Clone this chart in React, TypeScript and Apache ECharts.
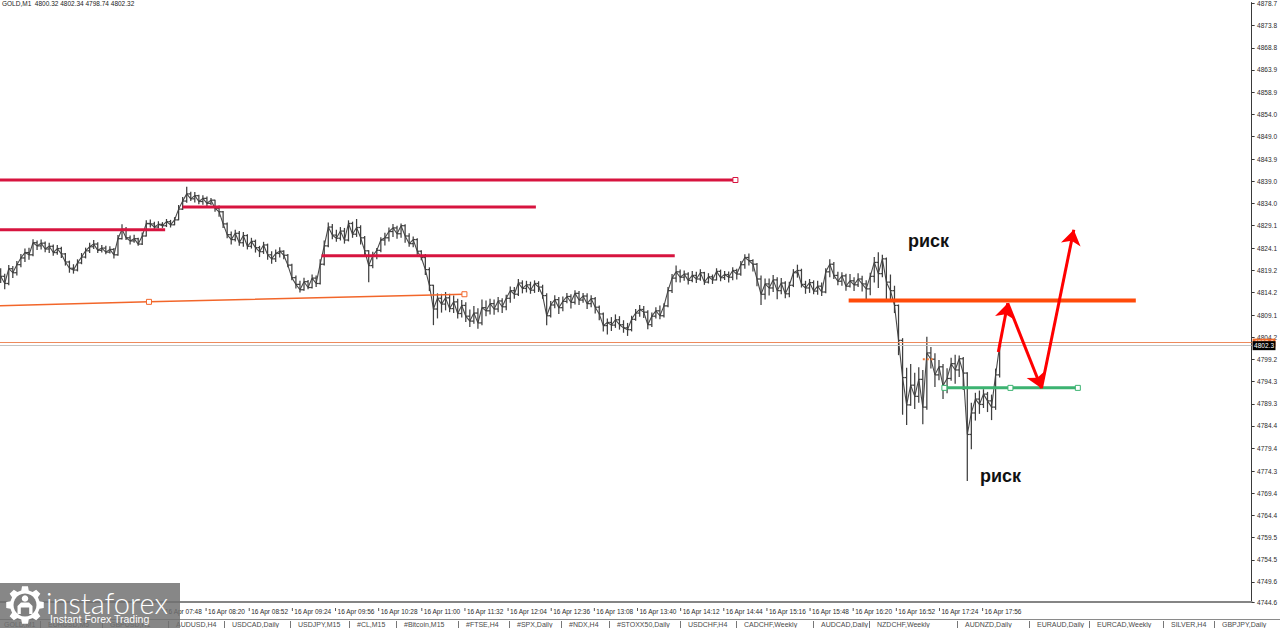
import React, { useEffect, useRef } from "react";
import * as echarts from "echarts";

// ---------------- data ----------------
const HEADER = "GOLD,M1  4800.32 4802.34 4798.74 4802.32";
const BAR_START = "05:48";
const BAR_STEP = 3; // minutes represented by each drawn bar
const FIRST_OPEN = 4818.9;

const CLOSE = [
  4817.8, 4816.2, 4819.5, 4818.6, 4820.4, 4821.9, 4823.1, 4822.6, 4825.3, 4824.6,
  4825.2, 4823.9, 4824.5, 4823.1, 4824.0, 4822.8, 4821.0, 4819.6, 4819.2, 4820.8,
  4822.1, 4823.5, 4824.4, 4825.0, 4823.6, 4824.1, 4823.2, 4823.8, 4822.6, 4826.2,
  4828.3, 4826.4, 4825.7, 4826.2, 4825.0, 4826.8, 4829.6, 4829.5, 4828.8, 4829.4,
  4829.1, 4830.0, 4829.3, 4830.4, 4832.8, 4834.6, 4836.2, 4835.1, 4835.8, 4834.5,
  4835.2, 4834.1, 4834.8, 4833.0, 4832.2, 4829.5, 4827.1, 4826.0, 4827.4, 4825.3,
  4826.9, 4824.5, 4825.6, 4824.2, 4823.3, 4824.8, 4822.6, 4821.7, 4822.9, 4823.4,
  4822.5, 4820.3, 4817.5, 4816.0, 4814.8, 4816.6, 4815.3, 4817.4, 4816.2, 4820.5,
  4824.6, 4828.8, 4827.0, 4826.3, 4827.9, 4825.9, 4829.6, 4827.2, 4828.7, 4826.4,
  4823.5, 4820.2, 4822.4, 4823.6, 4825.9, 4826.4, 4827.8, 4828.6, 4827.3, 4829.1,
  4826.8, 4825.1, 4826.0, 4823.4, 4822.0, 4819.3, 4815.8, 4810.5, 4812.9, 4811.6,
  4813.0, 4810.6, 4812.1, 4809.5, 4811.3, 4808.9, 4807.8, 4809.6, 4807.4, 4810.8,
  4810.1, 4811.7, 4810.5, 4812.3, 4811.0, 4812.9, 4814.6, 4813.8, 4816.3, 4815.1,
  4815.9, 4814.7, 4816.2, 4815.4, 4813.5, 4809.0, 4811.4, 4812.6, 4810.8, 4812.2,
  4813.3, 4812.0, 4814.0, 4812.5, 4813.4, 4811.7, 4812.8, 4810.9, 4809.4, 4806.8,
  4807.5, 4806.9, 4808.1, 4807.0, 4806.3, 4805.9, 4808.2, 4809.6, 4810.4, 4809.8,
  4807.0, 4808.9, 4810.1, 4809.0, 4811.2, 4814.6, 4817.4, 4818.8, 4817.6, 4818.3,
  4816.9, 4818.0, 4817.2, 4818.6, 4816.5, 4817.7, 4817.0, 4818.9, 4817.5, 4818.2,
  4817.6, 4819.1, 4818.3, 4820.4, 4822.0, 4821.3, 4820.5, 4817.2, 4813.8, 4816.1,
  4815.2, 4817.0, 4814.6, 4816.3, 4813.9, 4815.8, 4818.6, 4819.1, 4816.0, 4815.2,
  4816.4, 4814.5, 4815.6, 4814.3, 4818.8, 4820.5, 4818.0, 4816.7, 4817.9, 4815.6,
  4816.8, 4815.9, 4817.2, 4816.1, 4815.0, 4817.8, 4820.9, 4818.4, 4821.7, 4816.5,
  4814.6, 4811.3, 4803.5, 4795.2, 4789.1, 4793.5, 4791.0, 4794.8, 4788.6, 4800.7,
  4799.3, 4795.8, 4797.6, 4793.4, 4795.0, 4798.3, 4796.9, 4799.4, 4796.2, 4782.5,
  4787.3, 4790.4, 4789.2, 4791.5, 4790.0, 4788.6, 4795.8, 4802.32,
];

const HIGH = [
  4819.6, 4818.4, 4820.3, 4820.1, 4821.2, 4822.8, 4824.0, 4824.2, 4826.1, 4825.8,
  4826.0, 4825.6, 4825.3, 4824.9, 4824.8, 4824.4, 4823.0, 4821.3, 4820.5, 4821.6,
  4823.0, 4824.2, 4825.3, 4825.9, 4825.4, 4824.8, 4824.6, 4824.5, 4824.1, 4827.0,
  4829.4, 4828.8, 4826.9, 4827.1, 4826.4, 4827.6, 4830.3, 4830.5, 4830.0, 4830.1,
  4829.9, 4830.6, 4830.4, 4831.0, 4833.7, 4835.5, 4837.8, 4836.7, 4836.6, 4836.0,
  4835.9, 4835.6, 4835.3, 4834.9, 4833.6, 4832.4, 4829.8, 4827.8, 4828.2, 4827.9,
  4827.7, 4827.2, 4826.4, 4826.0, 4824.6, 4825.5, 4825.1, 4823.4, 4823.8, 4824.3,
  4823.6, 4822.8, 4820.6, 4818.0, 4816.8, 4817.5, 4817.0, 4818.2, 4818.0, 4821.6,
  4825.8, 4829.8, 4829.5, 4828.2, 4828.8, 4828.6, 4830.3, 4830.0, 4830.6, 4829.2,
  4826.8, 4823.6, 4823.3, 4824.1, 4826.5, 4827.5, 4828.7, 4829.5, 4829.1, 4829.6,
  4829.4, 4827.4, 4826.7, 4826.3, 4823.6, 4822.8, 4819.8, 4815.9, 4814.0, 4813.9,
  4814.3, 4813.9, 4813.5, 4812.8, 4812.5, 4812.0, 4810.4, 4811.2, 4810.7, 4812.6,
  4812.4, 4812.8, 4812.6, 4813.2, 4812.9, 4813.7, 4815.5, 4815.4, 4817.2, 4816.9,
  4816.8, 4816.6, 4816.9, 4816.7, 4815.9, 4814.0, 4812.3, 4813.6, 4813.2, 4813.3,
  4814.1, 4813.8, 4814.7, 4814.5, 4814.1, 4814.0, 4813.6, 4813.2, 4811.3, 4809.7,
  4808.4, 4808.7, 4809.3, 4808.9, 4808.0, 4807.4, 4809.0, 4810.5, 4811.4, 4811.2,
  4810.2, 4809.7, 4810.9, 4811.3, 4811.8, 4815.4, 4818.3, 4820.2, 4819.3, 4819.1,
  4818.7, 4819.0, 4818.8, 4819.4, 4818.8, 4818.5, 4818.2, 4819.6, 4819.3, 4819.0,
  4818.9, 4819.8, 4819.5, 4821.2, 4822.7, 4822.9, 4821.6, 4820.8, 4818.0, 4817.3,
  4817.3, 4818.1, 4817.6, 4817.4, 4816.7, 4816.6, 4819.4, 4820.4, 4819.5, 4816.8,
  4817.2, 4816.9, 4816.8, 4816.4, 4819.6, 4821.6, 4821.0, 4818.8, 4818.7, 4818.4,
  4818.3, 4817.6, 4818.5, 4817.9, 4816.9, 4818.6, 4822.1, 4823.2, 4822.6, 4822.0,
  4818.2, 4815.7, 4811.5, 4804.0, 4797.4, 4798.2, 4796.3, 4797.5, 4796.9, 4804.3,
  4802.0, 4800.6, 4799.1, 4798.2, 4797.3, 4799.6, 4800.3, 4800.1, 4799.8, 4796.4,
  4789.6, 4791.8, 4792.3, 4792.6, 4792.0, 4791.4, 4797.2, 4802.34,
];

const LOW = [
  4816.3, 4814.9, 4815.8, 4817.4, 4818.0, 4819.8, 4821.0, 4821.5, 4822.3, 4823.7,
  4823.8, 4823.2, 4823.0, 4822.4, 4822.6, 4821.9, 4820.2, 4818.6, 4818.4, 4818.9,
  4820.5, 4821.8, 4823.0, 4823.9, 4823.0, 4823.1, 4822.7, 4822.9, 4821.8, 4822.4,
  4826.0, 4825.9, 4824.9, 4825.3, 4824.6, 4824.8, 4826.7, 4828.7, 4828.4, 4828.5,
  4828.6, 4828.8, 4828.7, 4829.2, 4830.3, 4832.6, 4834.2, 4834.6, 4834.3, 4833.9,
  4833.8, 4833.5, 4833.7, 4832.2, 4831.1, 4828.6, 4826.3, 4824.9, 4825.6, 4824.6,
  4824.4, 4823.8, 4824.0, 4823.1, 4822.1, 4822.8, 4821.5, 4820.6, 4821.0, 4822.0,
  4821.6, 4819.8, 4816.9, 4815.1, 4814.2, 4814.6, 4814.9, 4815.1, 4815.4, 4816.0,
  4820.2, 4824.3, 4826.1, 4825.5, 4825.8, 4825.1, 4825.6, 4826.4, 4826.6, 4824.9,
  4822.1, 4816.5, 4819.6, 4821.6, 4823.2, 4824.7, 4825.6, 4826.6, 4826.2, 4826.4,
  4825.3, 4824.4, 4824.3, 4822.6, 4821.4, 4818.1, 4814.5, 4806.9, 4808.4, 4809.7,
  4810.2, 4809.8, 4809.6, 4808.4, 4808.6, 4807.6, 4806.5, 4807.2, 4806.1, 4806.9,
  4808.9, 4809.3, 4809.2, 4809.8, 4809.6, 4810.2, 4811.9, 4812.8, 4813.4, 4814.0,
  4814.2, 4813.9, 4814.1, 4814.3, 4812.8, 4806.9, 4808.6, 4810.7, 4809.4, 4810.0,
  4811.8, 4810.6, 4811.5, 4811.4, 4811.9, 4810.5, 4810.9, 4809.5, 4808.0, 4805.5,
  4804.8, 4805.6, 4806.3, 4805.9, 4805.2, 4804.5, 4805.5, 4807.9, 4808.8, 4808.5,
  4806.0, 4806.5, 4808.4, 4808.2, 4808.6, 4810.9, 4814.1, 4816.5, 4816.4, 4816.8,
  4816.0, 4816.5, 4816.3, 4816.8, 4815.9, 4816.2, 4816.1, 4816.9, 4816.7, 4817.0,
  4816.4, 4816.9, 4817.1, 4817.9, 4819.5, 4820.2, 4818.9, 4815.6, 4811.4, 4812.6,
  4813.5, 4814.3, 4812.7, 4813.8, 4812.9, 4813.1, 4815.4, 4817.5, 4815.3, 4813.9,
  4814.1, 4813.8, 4813.7, 4813.4, 4814.0, 4817.6, 4817.2, 4815.8, 4815.7, 4814.6,
  4815.3, 4814.5, 4815.4, 4814.4, 4812.2, 4813.6, 4816.4, 4815.2, 4817.6, 4812.1,
  4812.6, 4809.6, 4800.2, 4786.9, 4784.6, 4788.9, 4788.2, 4789.6, 4784.8, 4788.0,
  4797.2, 4793.1, 4794.6, 4790.4, 4791.7, 4794.5, 4793.8, 4795.3, 4792.4, 4772.1,
  4779.2, 4785.6, 4787.1, 4788.4, 4787.5, 4785.7, 4788.0, 4795.2,
];

const BID = 4802.32;
const BID_LABEL = "4802.3";
const ASK = 4803.0;
const ASK_LABEL = "4803.0";

const Y_TICKS = [
  4878.7, 4873.8, 4868.8, 4863.9, 4858.9, 4854.0, 4849.0, 4843.9, 4839.0, 4834.0,
  4829.1, 4824.1, 4819.2, 4814.2, 4809.1, 4804.2, 4799.2, 4794.3, 4789.3, 4784.4,
  4779.4, 4774.3, 4769.4, 4764.4, 4759.5, 4754.5, 4749.6, 4744.6,
];
const X_TICKS = [
  "07:48", "08:20", "08:52", "09:24", "09:56", "10:28", "11:00",
  "11:32", "12:04", "12:36", "13:08", "13:40", "14:12", "14:44", "15:16", "15:48", "16:20",
  "16:52", "17:24", "17:56",
];
const DATE_PREFIX = "16 Apr ";

// drawn objects (time, price)
const RES_1 = [["05:40", 4839.3], ["14:53", 4839.3]];
const RES_2 = [["08:03", 4833.3], ["12:25", 4833.3]];
const RES_3 = [["05:40", 4828.2], ["07:50", 4828.2]];
const RES_4 = [["09:46", 4822.4], ["14:08", 4822.4]];
const TREND = [["05:40", 4811.2], ["07:38", 4812.1], ["11:32", 4813.8]];
const LEVEL_ORANGE = [["16:17", 4812.4], ["19:50", 4812.4]];
const LEVEL_GREEN = [["17:28", 4792.9], ["18:17", 4792.9], ["19:07", 4792.9]];
const ORANGE_TAG = [["17:12", 4799.3], ["17:20", 4799.3]];
const ARROWS = [
  [["18:08", 4800.9], ["18:15", 4811.8]],
  [["18:15", 4811.8], ["18:40", 4792.8]],
  [["18:40", 4792.8], ["19:04", 4828.2]],
];
const RISK_TEXT = "риск";

const TABS = [
  "GOLD,M1", "EURUSD,M5", "GBPUSD,H1", "AUDUSD,H4", "USDCAD,Daily", "USDJPY,M15", "#CL,M15",
  "#Bitcoin,M15", "#FTSE,H4", "#SPX,Daily", "#NDX,H4", "#STOXX50,Daily", "USDCHF,H4",
  "CADCHF,Weekly", "AUDCAD,Daily", "NZDCHF,Weekly", "AUDNZD,Daily", "EURAUD,Daily",
  "EURCAD,Weekly", "SILVER,H4", "GBPJPY,Daily",
];

// ---------------- layout ----------------
const TAB_X = [4, 48, 110, 176, 232, 298, 357, 404, 466, 517, 569, 617, 688, 744, 821, 877, 965, 1037, 1097, 1171, 1222];
const X_MIN = 347.5;
const X_MAX = 1275.9;
const Y_MIN = 4745.1;
const Y_MAX = 4878.9;
const FONT = "'Liberation Sans', Arial, sans-serif";
const CRIMSON = "#d7143f";
const BAR_COLOR = "#3f3f3f";

const toMin = (s: string) => {
  const [h, m] = s.split(":").map(Number);
  return h * 60 + m;
};
const pad = (n: number) => (n < 10 ? "0" + n : "" + n);
const fmtMin = (v: number) => {
  const r = Math.round(v);
  return pad(Math.floor(r / 60)) + ":" + pad(r % 60);
};

function gearPoints(cx: number, cy: number, rOut: number, rIn: number, teeth: number) {
  const pts: number[][] = [];
  const s = (Math.PI * 2) / teeth;
  for (let k = 0; k < teeth; k++) {
    const a = k * s - Math.PI / 2;
    const add = (r: number, ang: number) => pts.push([cx + r * Math.cos(ang), cy + r * Math.sin(ang)]);
    add(rIn, a - s * 0.32);
    add(rOut, a - s * 0.2);
    add(rOut, a + s * 0.2);
    add(rIn, a + s * 0.32);
  }
  return pts;
}

function lineSeries(name: string, pts: (string | number)[][], color: string, width: number, marks: boolean[], z = 5, type = "solid") {
  return {
    name,
    type: "line",
    z,
    clip: true,
    silent: true,
    data: pts.map((p, i) => ({
      value: [toMin(p[0] as string), p[1] as number],
      symbolSize: marks[i] ? 5 : 0,
    })),
    symbol: "rect",
    showSymbol: true,
    itemStyle: { color: "#ffffff", borderColor: color, borderWidth: 1 },
    lineStyle: { color, width, type },
  };
}

export default function App() {
  const ref = useRef<HTMLDivElement>(null);

  useEffect(() => {
    if (!ref.current) return;
    const chart = echarts.init(ref.current, undefined, { renderer: "svg" });

    const t0 = toMin(BAR_START);
    const bars = CLOSE.map((c, i) => [t0 + i * BAR_STEP, i === 0 ? FIRST_OPEN : CLOSE[i - 1], c, LOW[i], HIGH[i]]);
    const closeLine = CLOSE.map((c, i) => [t0 + i * BAR_STEP, c]);

    const yPos = Y_TICKS.map((v) => Math.min(Y_MAX, Math.max(Y_MIN, v)));
    const yLabel = (v: number) => {
      let best = 0;
      yPos.forEach((p, i) => {
        if (Math.abs(p - v) < Math.abs(yPos[best] - v)) best = i;
      });
      return Y_TICKS[best].toFixed(1);
    };
    const xVals = X_TICKS.map(toMin);

    const gear = gearPoints(25, 605, 19, 15, 8);

    const tabEls: any[] = [];
    tabEls.push({
      type: "line",
      shape: { x1: 0, y1: 619.5, x2: 1280, y2: 619.5 },
      style: { stroke: "#8a8a8a", lineWidth: 1 },
      z: 50,
    });
    TABS.forEach((name, i) => {
      tabEls.push({
        type: "text",
        x: TAB_X[i],
        y: 620.5,
        z: 50,
        style: { text: name, fontSize: 7, fontFamily: FONT, fill: "#4a4a4a", verticalAlign: "top" },
      });
      if (i > 0) {
        tabEls.push({
          type: "line",
          shape: { x1: TAB_X[i] - 7.5, y1: 621, x2: TAB_X[i] - 7.5, y2: 628 },
          style: { stroke: "#777", lineWidth: 1 },
          z: 50,
        });
      }
    });

    const option: any = {
      animation: false,
      backgroundColor: "#ffffff",
      grid: { left: 0, right: 23, top: 0, bottom: 26, containLabel: false },
      xAxis: {
        type: "value",
        min: X_MIN,
        max: X_MAX,
        axisLine: { show: true, lineStyle: { color: "#858585", width: 2 } },
        axisTick: { show: false },
        splitLine: { show: false },
        axisLabel: {
          customValues: xVals,
          align: "left",
          margin: 6,
          formatter: (v: number) => `{tk|}{tx|${DATE_PREFIX}${fmtMin(v)}}`,
          rich: {
            tk: { width: 1, height: 3, backgroundColor: "#555", verticalAlign: "top" },
            tx: { fontSize: 6.5, fontFamily: FONT, color: "#2a2a2a", padding: [0, 0, 0, 1.5] },
          },
        },
      },
      yAxis: {
        type: "value",
        position: "right",
        min: Y_MIN,
        max: Y_MAX,
        axisLine: { show: true, lineStyle: { color: "#3a3a3a", width: 1 } },
        axisTick: { show: true, length: 3, customValues: yPos, lineStyle: { color: "#3a3a3a" } },
        splitLine: { show: false },
        axisLabel: {
          customValues: yPos,
          margin: 5.5,
          fontSize: 6.5,
          fontFamily: FONT,
          color: "#2a2a2a",
          formatter: (v: number) => yLabel(v),
        },
      },
      series: [
        {
          name: "close",
          type: "line",
          data: closeLine,
          symbol: "none",
          z: 2,
          silent: true,
          lineStyle: { color: "#4a4a4a", width: 1.1 },
          markLine: {
            silent: true,
            symbol: ["none", "none"],
            data: [
              {
                yAxis: ASK,
                lineStyle: { color: "#ee8a5c", width: 1, type: "solid" },
                label: {
                  show: true, position: "end", distance: 1, formatter: ASK_LABEL,
                  backgroundColor: "#f06a2c", color: "#ffe0d0", fontSize: 6.5, fontFamily: FONT, padding: [0.5, 1.5],
                },
              },
              {
                yAxis: BID,
                lineStyle: { color: "#c4c4c4", width: 1, type: "solid" },
                label: {
                  show: true, position: "end", distance: 1, formatter: BID_LABEL,
                  backgroundColor: "#000000", color: "#ffffff", fontSize: 6.5, fontFamily: FONT, padding: [1, 1.5],
                },
              },
            ],
          },
        },
        {
          name: "bars",
          type: "custom",
          data: bars,
          z: 3,
          silent: true,
          encode: { x: 0, y: [1, 2, 3, 4] },
          renderItem: (_p: any, api: any) => {
            const t = api.value(0);
            const hi = api.coord([t, api.value(4)]);
            const lo = api.coord([t, api.value(3)]);
            const op = api.coord([t, api.value(1)]);
            const cl = api.coord([t, api.value(2)]);
            const x = hi[0];
            const style = { stroke: BAR_COLOR, lineWidth: 1.25 };
            return {
              type: "group",
              children: [
                { type: "line", shape: { x1: x, y1: hi[1], x2: x, y2: lo[1] }, style },
                { type: "line", shape: { x1: x - 2, y1: op[1], x2: x, y2: op[1] }, style },
                { type: "line", shape: { x1: x, y1: cl[1], x2: x + 2, y2: cl[1] }, style },
              ],
            };
          },
        },
        lineSeries("res1", RES_1, CRIMSON, 3, [false, true]),
        lineSeries("res2", RES_2, CRIMSON, 3, [false, false]),
        lineSeries("res3", RES_3, CRIMSON, 3, [false, false]),
        lineSeries("res4", RES_4, CRIMSON, 3, [false, false]),
        lineSeries("trend", TREND, "#f2662a", 1.5, [false, true, true]),
        lineSeries("orange", LEVEL_ORANGE, "#ff4a0a", 4, [false, false]),
        lineSeries("green", LEVEL_GREEN, "#3cb371", 3, [true, true, true]),
        lineSeries("tag", ORANGE_TAG, "#f07a3a", 2, [false, false], 5, "dotted"),
        {
          name: "arrows",
          type: "lines",
          coordinateSystem: "cartesian2d",
          polyline: false,
          z: 8,
          silent: true,
          symbol: ["none", "arrow"],
          symbolSize: 15,
          lineStyle: { color: "#ff0000", width: 3, opacity: 1, curveness: 0 },
          data: ARROWS.map((seg) => ({ coords: seg.map((p) => [toMin(p[0] as string), p[1] as number]) })),
        },
      ],
      graphic: [
        {
          type: "text",
          x: 2,
          y: 3,
          style: { text: HEADER, fontSize: 6.5, fontFamily: FONT, fill: "#222", verticalAlign: "middle" },
          z: 20,
        },
        {
          type: "text",
          x: 908,
          y: 240.5,
          style: { text: RISK_TEXT, fontSize: 18, fontWeight: "bold", fontFamily: FONT, fill: "#111", verticalAlign: "middle" },
          z: 20,
        },
        {
          type: "text",
          x: 980,
          y: 475.5,
          style: { text: RISK_TEXT, fontSize: 18, fontWeight: "bold", fontFamily: FONT, fill: "#111", verticalAlign: "middle" },
          z: 20,
        },
        ...tabEls,
        {
          type: "group",
          z: 100,
          children: [
            { type: "rect", shape: { x: 0, y: 583, width: 180, height: 45 }, style: { fill: "rgba(112,112,112,0.84)" }, z: 100 },
            { type: "polygon", shape: { points: gear }, style: { fill: "#ffffff" }, z: 101 },
            { type: "circle", shape: { cx: 25, cy: 605, r: 11.5 }, style: { fill: "#7f7f7f" }, z: 102 },
            { type: "circle", shape: { cx: 25, cy: 598.5, r: 3.3 }, style: { fill: "#ffffff" }, z: 103 },
            {
              type: "polygon",
              shape: {
                points: [
                  [17.5, 614], [17.5, 606], [21, 602.5], [29, 602.5], [32.5, 606], [32.5, 614],
                  [29.2, 614], [29.2, 607.5], [20.8, 607.5], [20.8, 614],
                ],
              },
              style: { fill: "#ffffff" },
              z: 103,
            },
            {
              type: "text",
              x: 46,
              y: 602,
              style: { text: "instaforex", fontSize: 29, fontWeight: 300, fontFamily: "Lato, 'Open Sans', sans-serif", fill: "#ffffff", verticalAlign: "middle" },
              z: 103,
            },
            {
              type: "text",
              x: 50,
              y: 618.5,
              style: { text: "Instant Forex Trading", fontSize: 10.5, fontFamily: FONT, fill: "#ffffff", verticalAlign: "middle" },
              z: 103,
            },
          ],
        },
      ],
    };

    chart.setOption(option);
    return () => chart.dispose();
  }, []);

  return (
    <div
      ref={ref}
      style={{ position: "fixed", left: 0, top: 0, width: 1280, height: 628, background: "#fff" }}
    />
  );
}
